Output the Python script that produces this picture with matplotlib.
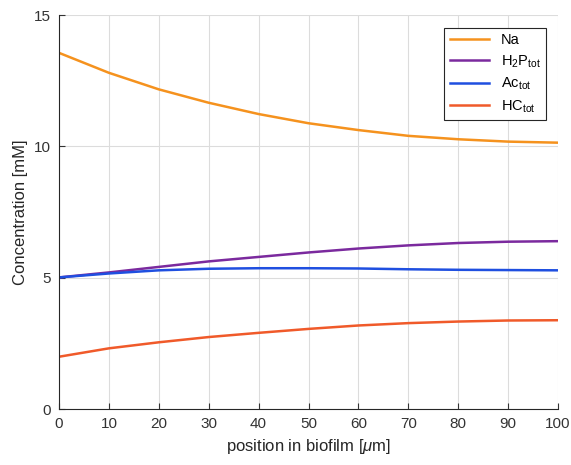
import matplotlib.pyplot as plt

plt.rcParams['font.family'] = ['Liberation Sans', 'DejaVu Sans']
plt.rcParams['mathtext.fontset'] = 'custom'
plt.rcParams['mathtext.rm'] = 'Liberation Sans'
plt.rcParams['mathtext.it'] = 'Liberation Sans:italic'

# ---- data ----
position = [0, 10, 20, 30, 40, 50, 60, 70, 80, 90, 100]
na = [13.56, 12.80, 12.17, 11.66, 11.23, 10.88, 10.62, 10.40, 10.27, 10.18, 10.14]
h2p = [5.01, 5.20, 5.41, 5.62, 5.79, 5.96, 6.11, 6.23, 6.32, 6.37, 6.39]
ac = [5.01, 5.16, 5.28, 5.34, 5.36, 5.36, 5.35, 5.32, 5.30, 5.29, 5.28]
hc = [1.99, 2.31, 2.54, 2.74, 2.90, 3.05, 3.18, 3.27, 3.33, 3.37, 3.38]

labels = ['Na', r'H$_2$P$_{\mathrm{tot}}$', r'Ac$_{\mathrm{tot}}$', r'HC$_{\mathrm{tot}}$']
colors = ['#F5921E', '#7B2A9E', '#1F4FE0', '#F05A2A']

fig = plt.figure(figsize=(5.71, 4.65), dpi=100)
ax = fig.add_axes([0.1033, 0.1204, 0.874, 0.8473])

for y, c, lab in zip([na, h2p, ac, hc], colors, labels):
    ax.plot(position, y, color=c, lw=1.8, label=lab)

ax.set_xlim(0, 100)
ax.set_ylim(0, 15)
ax.set_xticks(range(0, 101, 10))
ax.set_yticks([0, 5, 10, 15])
ax.grid(True, color='#dcdcdc', lw=0.8)
ax.set_axisbelow(True)
for s in ['top', 'right']:
    ax.spines[s].set_visible(False)
for s in ['left', 'bottom']:
    ax.spines[s].set_color('#262626')
ax.tick_params(direction='in', length=4, labelsize=11, colors='#333333', pad=6)
ax.set_xlabel(r'position in biofilm [$\mu$m]', fontsize=12, color='#262626')
ax.set_ylabel('Concentration [mM]', fontsize=12, color='#262626')

leg = ax.legend(loc='upper right', bbox_to_anchor=(0.99, 0.985), fontsize=10.5,
                fancybox=False, framealpha=1, edgecolor='#262626',
                handlelength=2.7, labelspacing=0.42, borderpad=0.35)
leg.get_frame().set_linewidth(0.8)

fig.savefig('out.png', dpi=100)
